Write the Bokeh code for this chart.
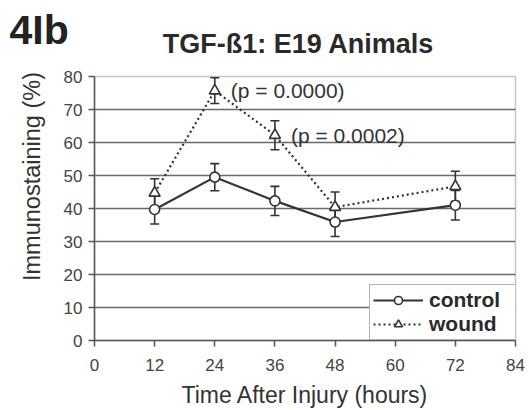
import math
from bokeh.plotting import figure
from bokeh.layouts import column, row
from bokeh.models import (ColumnDataSource, Range1d, Whisker, TeeHead, Legend,
                          LegendItem, FixedTicker)
from bokeh.core.properties import value
from bokeh.embed import file_html
from bokeh.resources import INLINE

# Immunostaining (%) of TGF-beta1 after injury, E19 animals
hours = [12, 24, 36, 48, 72]
control_mean = [39.7, 49.5, 42.3, 35.9, 41.0]
control_err = [4.4, 4.1, 4.4, 4.4, 4.5]
wound_mean = [44.7, 75.7, 62.2, 40.4, 46.7]
wound_err = [4.3, 3.9, 4.4, 4.6, 4.6]

# significance notes attached to wound points
p_hours = [24, 36]
p_text = ["(p = 0.0000)", "(p = 0.0002)"]

x_ticks = [0, 12, 24, 36, 48, 60, 72, 84]
y_ticks = [0, 10, 20, 30, 40, 50, 60, 70, 80]

title_text = "TGF-ß1: E19 Animals"
panel_tag = "4Ib"
x_label = "Time After Injury (hours)"
y_label = "Immunostaining (%)"

FONT = "Liberation Sans"
INK = "#333333"

W, H = 529, 410
HEAD_H = 64      # strip above the chart
SIDE_W = 48      # strip holding the vertical axis title


def strip(width, height):
    """Blank figure whose data space is plain pixels, y growing downward."""
    f = figure(width=width, height=height, x_range=Range1d(0, width),
               y_range=Range1d(height, 0), output_backend="svg",
               toolbar_location=None, min_border=0, outline_line_color=None,
               frame_align=False)
    f.axis.visible = False
    f.grid.visible = False
    return f


# --- heading strip: panel tag and chart title ---
head = strip(W, HEAD_H)
head.text(x=[9], y=[29], text=[panel_tag], text_font=value(FONT),
          text_font_size="41px", text_font_style="bold", text_color="#222222",
          text_baseline="middle", text_align="left")
head.text(x=[298], y=[43], text=[title_text], text_font=value(FONT),
          text_font_size="27px", text_font_style="bold", text_color="#2a2a2a",
          text_baseline="middle", text_align="center")

# --- side strip: vertical axis title ---
side = strip(SIDE_W, H - HEAD_H)
side.text(x=[31], y=[176 - HEAD_H], text=[y_label], angle=math.pi / 2,
          text_font=value(FONT), text_font_size="23.5px", text_color=INK,
          text_baseline="middle", text_align="center")

# --- main chart ---
ctrl = ColumnDataSource(dict(
    x=hours, y=control_mean,
    lo=[m - e for m, e in zip(control_mean, control_err)],
    hi=[m + e for m, e in zip(control_mean, control_err)]))
wnd = ColumnDataSource(dict(
    x=hours, y=wound_mean,
    lo=[m - e for m, e in zip(wound_mean, wound_err)],
    hi=[m + e for m, e in zip(wound_mean, wound_err)]))
notes = ColumnDataSource(dict(
    x=p_hours,
    y=[wound_mean[hours.index(h)] for h in p_hours],
    t=p_text))

p = figure(width=W - SIDE_W, height=H - HEAD_H, x_range=Range1d(0, 84),
           y_range=Range1d(0, 80), output_backend="svg", toolbar_location=None,
           min_border_left=94 - SIDE_W, min_border_right=14,
           min_border_top=76 - HEAD_H, min_border_bottom=68, frame_align=False)

p.background_fill_color = "white"
p.border_fill_color = "white"
p.outline_line_color = "#c4c4c4"
p.outline_line_width = 1.5

for ax in (p.xaxis[0], p.yaxis[0]):
    ax.axis_line_color = "#555555"
    ax.axis_line_width = 1.5
    ax.major_tick_line_color = "#555555"
    ax.major_tick_line_width = 1.5
    ax.major_tick_out = 6
    ax.major_tick_in = 0
    ax.minor_tick_line_color = None
    ax.major_label_text_font = FONT
    ax.major_label_text_font_size = "17px"
    ax.major_label_text_color = "#444444"

p.xaxis.ticker = FixedTicker(ticks=x_ticks)
p.yaxis.ticker = FixedTicker(ticks=y_ticks)
p.xaxis.axis_label = x_label
p.xaxis.axis_label_text_font = FONT
p.xaxis.axis_label_text_font_style = "normal"
p.xaxis.axis_label_text_color = INK
p.xaxis.axis_label_text_font_size = "23px"
p.xaxis.major_label_standoff = 12
p.yaxis.major_label_standoff = 6
p.xaxis.axis_label_standoff = 8

p.xgrid.grid_line_color = None
p.ygrid.ticker = FixedTicker(ticks=y_ticks[1:-1])
p.ygrid.grid_line_color = "#6a6a6a"
p.ygrid.grid_line_width = 1.4

# series lines
c_line = p.line("x", "y", source=ctrl, line_color=INK, line_width=2.2)
w_line = p.line("x", "y", source=wnd, line_color=INK, line_width=2.2, line_dash="2 3")

# error bars
for src in (ctrl, wnd):
    p.add_layout(Whisker(source=src, base="x", lower="lo", upper="hi",
                         line_color=INK, line_width=1.6,
                         upper_head=TeeHead(size=9, line_color=INK, line_width=1.6),
                         lower_head=TeeHead(size=9, line_color=INK, line_width=1.6)))

c_pts = p.scatter("x", "y", source=ctrl, marker="circle", size=10,
                  fill_color="white", line_color=INK, line_width=1.6)
w_pts = p.scatter("x", "y", source=wnd, marker="triangle", size=11,
                  fill_color="white", line_color=INK, line_width=1.6)

# significance annotations
p.text("x", "y", text="t", source=notes, x_offset=16, text_baseline="middle",
       text_align="left", text_font=value(FONT), text_font_size="21px",
       text_color=INK)

legend = Legend(items=[LegendItem(label="control", renderers=[c_line, c_pts]),
                       LegendItem(label="wound", renderers=[w_line, w_pts])],
                location=(275, 0), margin=0, padding=3, spacing=0,
                glyph_width=50, glyph_height=20, label_height=20,
                label_width=84, label_standoff=6,
                label_text_font=FONT, label_text_font_size="21px",
                label_text_font_style="bold", label_text_color="#2a2a2a",
                border_line_color="#666666", border_line_width=1.5,
                background_fill_color="white", background_fill_alpha=1.0)
p.add_layout(legend, "center")

page = column(head, row(side, p, spacing=0), spacing=0)
open("out.html", "w").write(file_html(page, INLINE))
